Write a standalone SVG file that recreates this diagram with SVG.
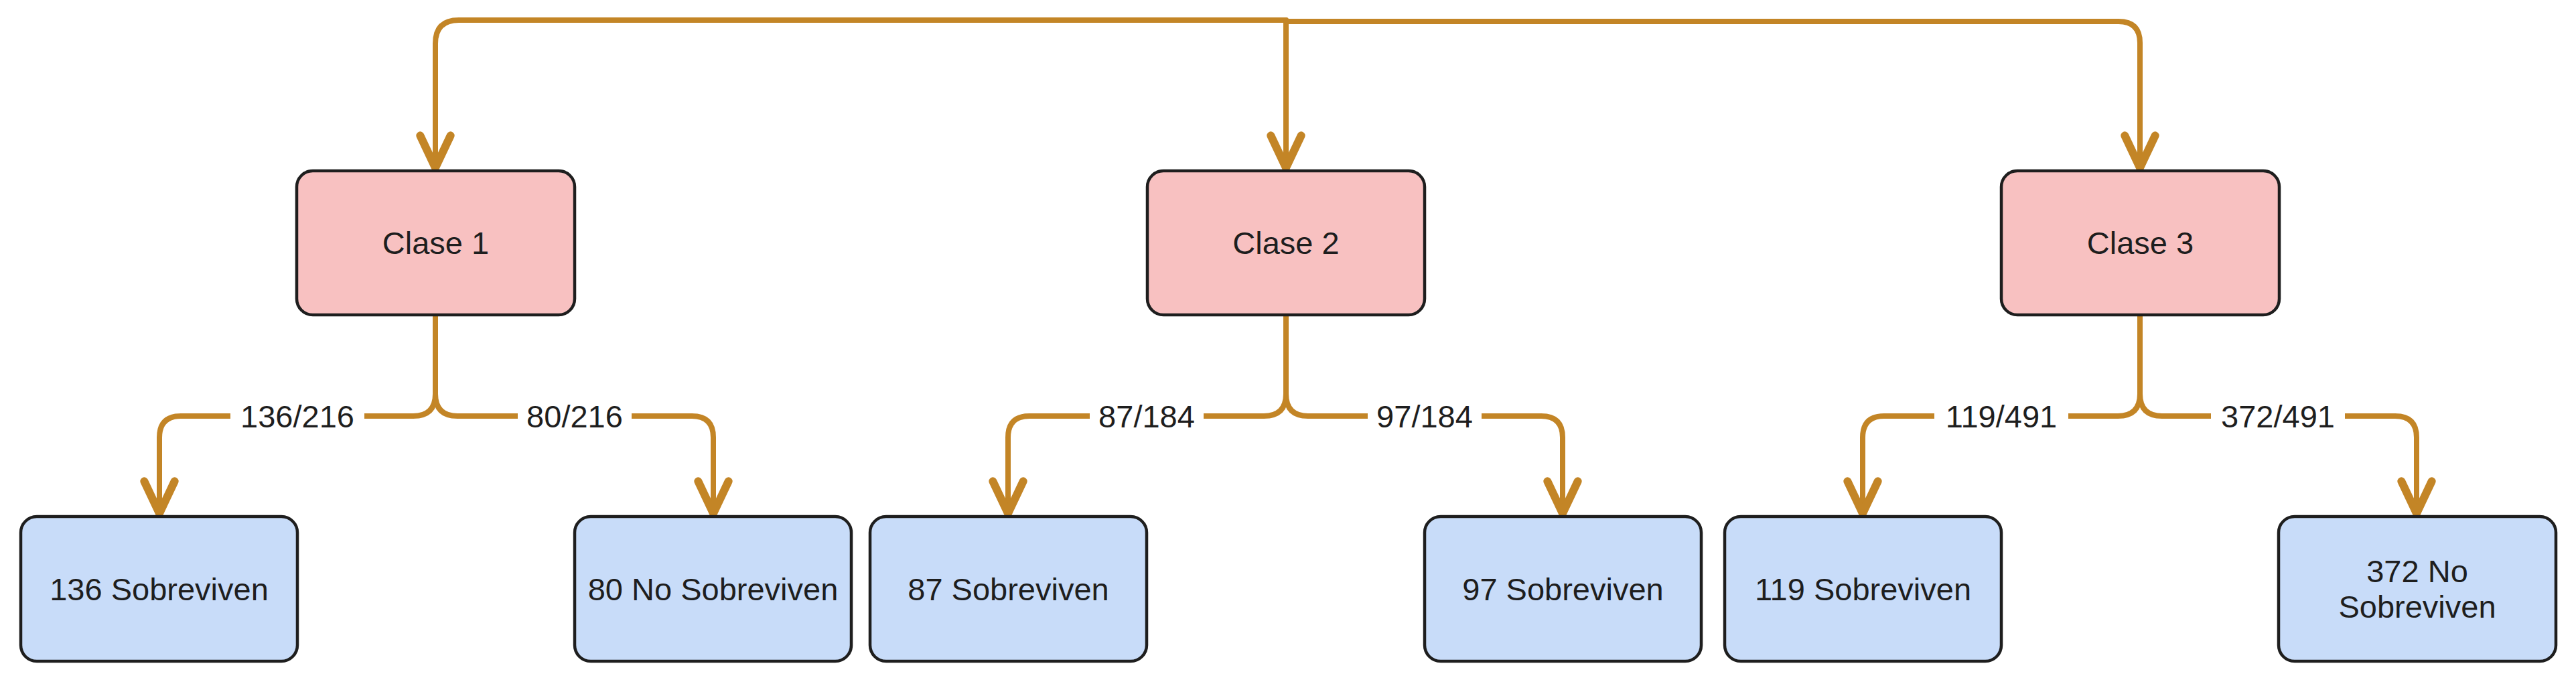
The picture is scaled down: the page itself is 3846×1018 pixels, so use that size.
<svg xmlns="http://www.w3.org/2000/svg" width="3846" height="1018" viewBox="0 0 3846 1018">
  <style>
    .node rect { stroke: #1e1e1e; stroke-width: 4.5; }
    .top rect { fill: #f8c1c1; }
    .leaf rect { fill: #c8dcf9; }
    text { font-family: "Liberation Sans", Arial, sans-serif; font-size: 47px; fill: #1e1e1e; text-anchor: middle; }
    .edge { fill: none; stroke: #c38526; stroke-width: 8; stroke-linecap: round; stroke-linejoin: round; }
    .lblbg { fill: #ffffff; }
  </style>
  <defs>
    <marker id="ah" markerUnits="userSpaceOnUse" markerWidth="80" markerHeight="80" viewBox="-50 -30 60 60" refX="0" refY="0" orient="auto" overflow="visible">
      <path d="M-38,-17 L-2,0 L-38,17" fill="none" stroke="#c38526" stroke-width="9" stroke-linecap="round" stroke-linejoin="round"/>
    </marker>
  </defs>
  <rect width="3846" height="1018" fill="#ffffff"/>

  <g id="connectors">
    <path class="edge" marker-end="url(#ah)" d="M1920,30 L685,30 Q650,30 650,65 L650,253"/>
    <path class="edge" marker-end="url(#ah)" d="M1920,30 L1920,253"/>
    <path class="edge" marker-end="url(#ah)" d="M1920,32 L3163,32 Q3195,32 3195,64 L3195,253"/>

    <path class="edge" marker-end="url(#ah)" d="M650,470 L650,588 Q650,621 617,621 L270,621 Q238,621 238,653 L238,769"/>
    <path class="edge" marker-end="url(#ah)" d="M650,470 L650,588 Q650,621 683,621 L1033,621 Q1065,621 1065,653 L1065,769"/>
    <path class="edge" marker-end="url(#ah)" d="M1920,470 L1920,588 Q1920,621 1887,621 L1537,621 Q1505,621 1505,653 L1505,769"/>
    <path class="edge" marker-end="url(#ah)" d="M1920,470 L1920,588 Q1920,621 1953,621 L2301,621 Q2333,621 2333,653 L2333,769"/>
    <path class="edge" marker-end="url(#ah)" d="M3195,470 L3195,588 Q3195,621 3162,621 L2813,621 Q2781,621 2781,653 L2781,769"/>
    <path class="edge" marker-end="url(#ah)" d="M3195,470 L3195,588 Q3195,621 3228,621 L3576,621 Q3608,621 3608,653 L3608,769"/>

    <g id="edge-labels">
      <rect class="lblbg" x="344" y="596" width="200" height="52"/>
      <text x="444" y="638">136/216</text>
      <rect class="lblbg" x="773" y="596" width="170" height="52"/>
      <text x="858" y="638">80/216</text>
      <rect class="lblbg" x="1627" y="596" width="170" height="52"/>
      <text x="1712" y="638">87/184</text>
      <rect class="lblbg" x="2042" y="596" width="170" height="52"/>
      <text x="2127" y="638">97/184</text>
      <rect class="lblbg" x="2888" y="596" width="200" height="52"/>
      <text x="2988" y="638">119/491</text>
      <rect class="lblbg" x="3301" y="596" width="200" height="52"/>
      <text x="3401" y="638">372/491</text>
    </g>
  </g>

  <g id="clase1" class="node top">
    <rect x="443" y="255" width="415" height="215" rx="24"/>
    <text x="650.5" y="379">Clase 1</text>
  </g>
  <g id="clase2" class="node top">
    <rect x="1713" y="255" width="414" height="215" rx="24"/>
    <text x="1920" y="379">Clase 2</text>
  </g>
  <g id="clase3" class="node top">
    <rect x="2988" y="255" width="415" height="215" rx="24"/>
    <text x="3195.5" y="379">Clase 3</text>
  </g>

  <g id="s136" class="node leaf">
    <rect x="31" y="771" width="413" height="216" rx="24"/>
    <text x="237.5" y="896">136 Sobreviven</text>
  </g>
  <g id="n80" class="node leaf">
    <rect x="858" y="771" width="413" height="216" rx="24"/>
    <text x="1064.5" y="896">80 No Sobreviven</text>
  </g>
  <g id="s87" class="node leaf">
    <rect x="1299" y="771" width="413" height="216" rx="24"/>
    <text x="1505.5" y="896">87 Sobreviven</text>
  </g>
  <g id="s97" class="node leaf">
    <rect x="2127" y="771" width="413" height="216" rx="24"/>
    <text x="2333.5" y="896">97 Sobreviven</text>
  </g>
  <g id="s119" class="node leaf">
    <rect x="2575" y="771" width="413" height="216" rx="24"/>
    <text x="2781.5" y="896">119 Sobreviven</text>
  </g>
  <g id="n372" class="node leaf">
    <rect x="3402" y="771" width="414" height="216" rx="24"/>
    <text x="3609" y="869">372 No</text>
    <text x="3609" y="922">Sobreviven</text>
  </g>
</svg>
